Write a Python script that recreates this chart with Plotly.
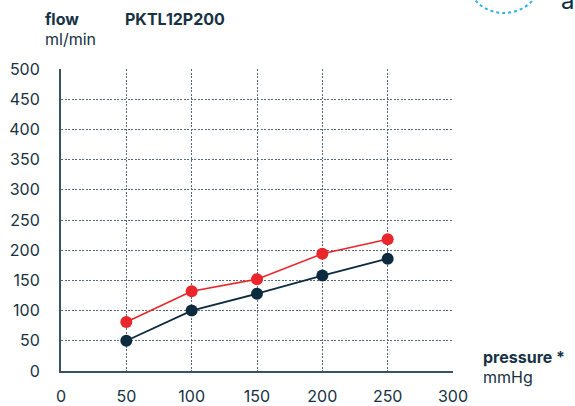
import plotly.graph_objects as go

# ---- data ----
pressure = [50, 100, 150, 200, 250]
flow_dark = [50, 100, 128, 158, 186]
flow_red = [81, 132, 152, 194, 218]
x_ticks = [0, 50, 100, 150, 200, 250, 300]
y_ticks = [0, 50, 100, 150, 200, 250, 300, 350, 400, 450, 500]
x_grid = [50, 100, 150, 200, 250]
y_grid = [50, 100, 150, 200, 250, 300, 350, 400, 450]

W, H = 575, 406
L, R, T, B = 61, 122, 69, 35
PW, PH = W - L - R, H - T - B

def px(x):
    return (x - L) / PW

def py(y):
    return (H - B - y) / PH

NAVY = "#0d2b3e"
TEXT = "#173243"
RED = "#e8262b"
GRID = "#55697a"
FONT = "Inter"

fig = go.Figure()
# grid-only carrier trace on the base axes
fig.add_trace(go.Scatter(x=[None], y=[None], mode="markers", hoverinfo="skip",
                         showlegend=False))
fig.add_trace(go.Scatter(x=pressure, y=flow_red, mode="lines+markers",
                         line=dict(color=RED, width=1.6),
                         marker=dict(color=RED, size=12), showlegend=False,
                         xaxis="x2", yaxis="y2"))
fig.add_trace(go.Scatter(x=pressure, y=flow_dark, mode="lines+markers",
                         line=dict(color=NAVY, width=1.8),
                         marker=dict(color=NAVY, size=12), showlegend=False,
                         xaxis="x2", yaxis="y2"))

grid_common = dict(showline=False, showgrid=True, gridcolor=GRID, griddash="2px,1.5px",
                   gridwidth=1.2, zeroline=False, ticks="", showticklabels=False,
                   automargin=False)
fig.update_layout(
    xaxis=dict(range=[0, 300], tickvals=x_grid, **grid_common),
    yaxis=dict(range=[0, 500], tickvals=y_grid, **grid_common),
)
lab_common = dict(showline=True, linecolor="#3b5261", linewidth=2,
                  showgrid=False, zeroline=False, ticks="", automargin=False,
                  tickfont=dict(family=FONT, size=16, color=TEXT))
fig.update_layout(
    xaxis2=dict(range=[0, 300], tickvals=x_ticks, overlaying="x", anchor="y2",
                side="bottom", ticklabelstandoff=10, **lab_common),
    yaxis2=dict(range=[0, 500], tickvals=y_ticks, overlaying="y", anchor="x2",
                side="left", ticklabelstandoff=16, **lab_common),
)

ann = []
def text(t, x, y, size, bold=False, color=TEXT, xanchor="left"):
    ann.append(dict(text=("<b>%s</b>" % t) if bold else t, x=px(x), y=py(y),
                    xref="paper", yref="paper", xanchor=xanchor, yanchor="middle",
                    showarrow=False, font=dict(family=FONT, size=size, color=color)))

text("flow", 43, 19, 16, bold=True)
text("ml/min", 43, 39, 16)
text("PKTL12P200", 123, 19, 16, bold=True)
text("pressure *", 481, 357, 16, bold=True)
text("mmHg", 481, 377, 16)
text("a", 567, 1, 24, color=NAVY, xanchor="center")

cx, cy, r = 504, -26, 39
shapes = [dict(type="circle", xref="paper", yref="paper",
               x0=px(cx - r), x1=px(cx + r), y0=py(cy + r), y1=py(cy - r),
               line=dict(color="#2bb3e6", width=2, dash="dot"))]

fig.update_layout(width=W, height=H, margin=dict(l=L, r=R, t=T, b=B, autoexpand=False),
                  plot_bgcolor="white", paper_bgcolor="white",
                  annotations=ann, shapes=shapes)

fig.write_html("out.html", config={"displayModeBar": False},
               post_script="document.body.style.margin='0';document.body.style.overflow='hidden';")
